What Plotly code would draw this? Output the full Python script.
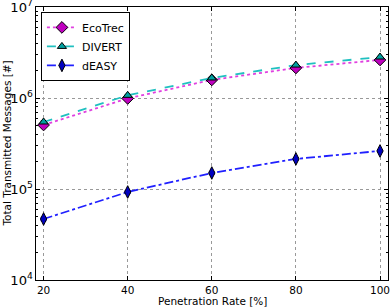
import plotly.graph_objects as go

rates = [20, 40, 60, 80, 100]
ecotrec = [505000, 990000, 1580000, 2140000, 2620000]
divert = [545000, 1070000, 1660000, 2300000, 2820000]
deasy = [46800, 92700, 150000, 214000, 262000]

ecotrec_err = [15000, 25000, 30000, 35000, 40000]
divert_err = [15000, 25000, 30000, 35000, 40000]
deasy_err = [2000, 3000, 4000, 5000, 6000]

fig = go.Figure()
fig.add_trace(go.Scatter(
    x=rates, y=ecotrec, name="EcoTrec", mode="lines+markers",
    line=dict(color="#e040e0", dash="dot", width=1.8),
    marker=dict(symbol="diamond", size=9, color="#bf00bf", line=dict(color="black", width=1)),
    error_y=dict(type="data", array=ecotrec_err, color="#bf00bf", thickness=1, width=3),
))
fig.add_trace(go.Scatter(
    x=rates, y=divert, name="DIVERT", mode="lines+markers",
    line=dict(color="#20c0c0", dash="dash", width=1.8),
    marker=dict(symbol="triangle-up", size=8, color="#00a0a0", line=dict(color="black", width=1)),
    error_y=dict(type="data", array=divert_err, color="#00bfbf", thickness=1, width=3),
))
fig.add_trace(go.Scatter(
    x=rates, y=deasy, name="dEASY", mode="lines+markers",
    line=dict(color="#2020ff", dash="dashdot", width=1.8),
    marker=dict(symbol="diamond-tall", size=9, color="#0000c0", line=dict(color="black", width=1)),
    error_y=dict(type="data", array=deasy_err, color="#0000ff", thickness=1, width=3),
))

axis_common = dict(
    showline=True, linecolor="black", linewidth=1, mirror="allticks",
    ticks="inside", ticklen=4, tickcolor="black",
    showgrid=True, gridcolor="#999999", griddash="dot", gridwidth=1,
    zeroline=False, automargin=False, ticklabeloverflow="allow",
    tickfont=dict(size=10.5, color="black", family="DejaVu Sans"),
)

fig.update_xaxes(
    range=[18.2, 101.9], tickvals=rates, ticktext=[str(r) for r in rates],
    **axis_common,
)
fig.update_yaxes(
    type="log", range=[4, 7], dtick=1, exponentformat="power",
    minor=dict(ticks="inside", ticklen=2, tickcolor="black", showgrid=False),
    **axis_common,
)

fig.add_annotation(text="Penetration Rate [%]", xref="paper", yref="paper",
                   x=0.5, y=-0.077, xanchor="center", yanchor="middle", showarrow=False,
                   font=dict(size=10.5, family="DejaVu Sans", color="black"))
fig.add_annotation(text="Total Transmitted Messages [#]", xref="paper", yref="paper",
                   x=-0.085, y=0.5, xanchor="center", yanchor="middle", showarrow=False,
                   textangle=-90,
                   font=dict(size=10.5, family="DejaVu Sans", color="black"))

fig.update_layout(
    width=390, height=307,
    margin=dict(l=36, r=2, t=7, b=27),
    plot_bgcolor="white", paper_bgcolor="white",
    font=dict(family="DejaVu Sans", size=11, color="black"),
    legend=dict(x=0.014, y=0.982, xanchor="left", yanchor="top",
                bordercolor="black", borderwidth=1, bgcolor="white",
                font=dict(size=11), tracegroupgap=0, itemwidth=30),
    showlegend=True,
)

fig.write_html("out.html", config={"displayModeBar": False},
               post_script="document.body.style.margin='0';document.body.style.overflow='hidden';")
